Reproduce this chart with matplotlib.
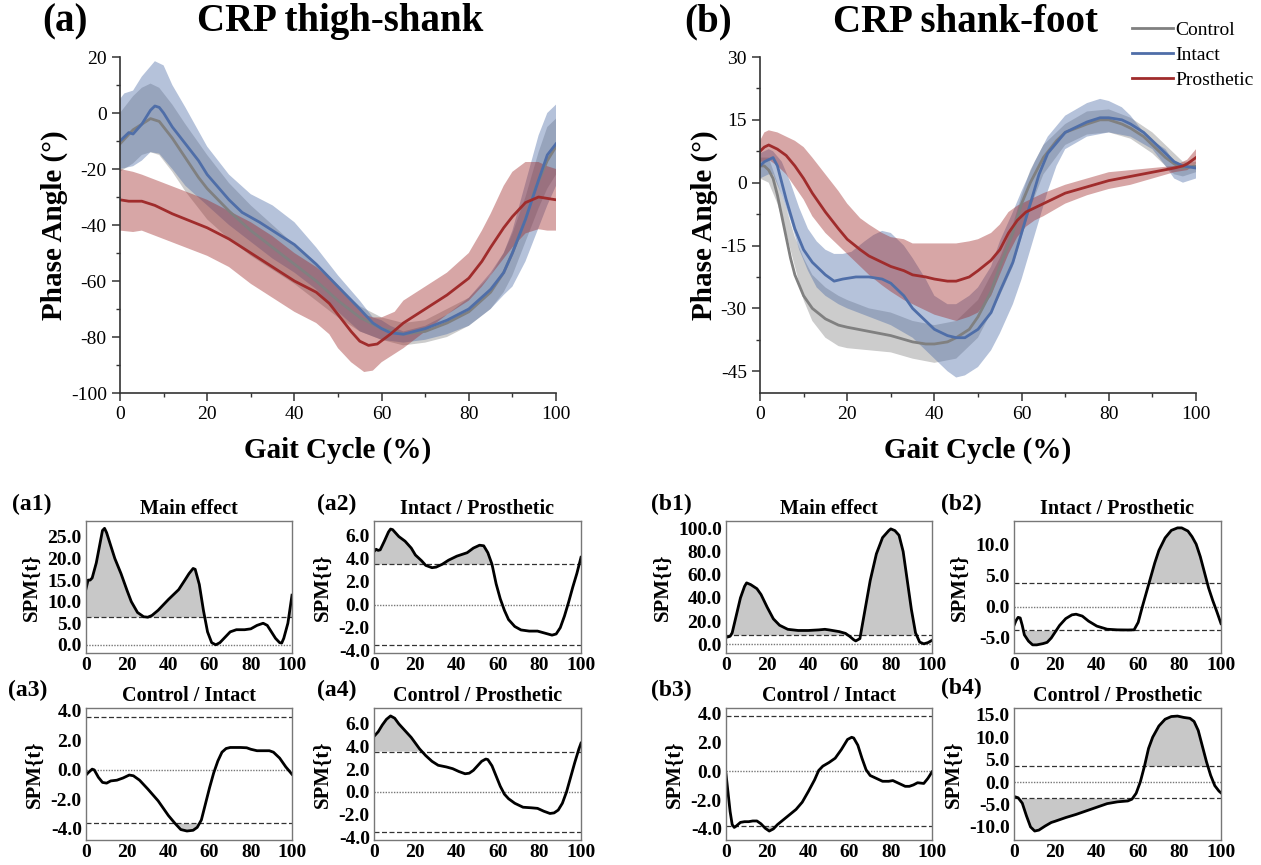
import numpy as np
import matplotlib.pyplot as plt
from matplotlib.ticker import MultipleLocator, FormatStrFormatter

plt.rcParams['font.family'] = ['Liberation Serif', 'DejaVu Serif']
plt.rcParams['axes.unicode_minus'] = False

W, H = 1261, 865

C_CTRL = '#808080'
C_INT = '#4f6ea8'
C_PRO = '#a02c2c'

# ---------------- (a) CRP thigh-shank ----------------
a_ctrl_x = [0, 3, 5, 7, 9, 12, 15, 18, 20, 25, 30, 35, 40, 45, 50, 55, 60, 65, 70, 75, 80, 85, 88, 90, 93, 95, 98, 100]
a_ctrl_y = [-11, -6, -4, -2, -3, -9, -16, -23, -27, -35, -42, -48, -54, -60, -67, -73, -77, -79, -78, -75, -71, -64, -57, -50, -38, -28, -17, -12]
a_ctrl_band_x = [0, 3, 5, 7, 9, 12, 15, 20, 25, 30, 35, 40, 45, 50, 55, 60, 65, 70, 75, 80, 85, 88, 90, 93, 96, 98, 100]
a_ctrl_hi = [0, 6, 9, 10.5, 9, 3, -4, -15, -25, -33, -40, -47, -54, -62, -69, -73, -75, -74, -70, -66, -58, -50, -43, -30, -14, -5, -2]
a_ctrl_lo = [-21, -18, -15, -14, -15, -21, -28, -38, -45, -51, -56, -61, -67, -73, -78, -81, -83, -82, -80, -76, -70, -64, -58, -46, -34, -27, -22]

a_int_x = [0, 2, 3, 5, 7, 8, 9, 10, 12, 15, 18, 20, 25, 28, 32, 35, 38, 40, 45, 50, 55, 58, 60, 62, 65, 70, 75, 80, 85, 88, 90, 93, 96, 98, 100]
a_int_y = [-10, -7, -7.5, -4, 1, 2.5, 2, 0, -5, -11, -17, -22, -31, -35.5, -39, -42, -45, -47, -54, -62, -70, -75, -77, -78.5, -79, -77, -74, -70, -63, -57, -50, -38, -24, -15, -11]
a_int_hi_x = [0, 1, 3, 5, 8, 10, 12, 15, 20, 25, 30, 35, 40, 45, 50, 55, 58, 60, 62, 65, 70, 75, 80, 85, 88, 90, 93, 96, 98, 100]
a_int_hi = [5, 7, 8, 13, 18.5, 17, 10, 2, -12, -22, -29, -33, -39, -48, -58, -67, -73, -74, -76, -78, -76, -72, -66, -57, -50, -42, -25, -8, 0, 3]
a_int_lo_x = [0, 3, 5, 7, 9, 12, 15, 20, 25, 30, 35, 40, 45, 50, 55, 60, 65, 70, 75, 80, 85, 88, 90, 93, 95, 98, 100]
a_int_lo = [-20, -19, -17, -14, -14.5, -20, -26, -33, -40, -46, -52, -57, -63, -71, -78, -81, -82, -81, -79, -76, -70, -65, -62, -53, -45, -33, -26]

a_pro_x = [0, 2, 5, 8, 12, 16, 20, 25, 30, 35, 40, 45, 48, 50, 53, 55, 57, 59, 62, 65, 70, 75, 80, 83, 85, 88, 90, 93, 96, 98, 100]
a_pro_y = [-31, -31.5, -31.5, -33, -36, -38.5, -41, -45, -50, -55, -60, -64, -68, -72, -78, -81.5, -83, -82.5, -79, -75, -70, -65, -59, -53, -48, -41, -37, -32, -30, -30.5, -31]
a_pro_band_x = [0, 3, 5, 10, 15, 20, 25, 30, 35, 40, 45, 48, 50, 53, 56, 58, 60, 63, 65, 70, 75, 80, 83, 85, 88, 90, 93, 96, 98, 100]
a_pro_hi = [-20, -21, -22, -25, -28, -31, -35, -39, -44, -50, -55, -59, -62, -67, -72, -73, -73, -71, -67, -62, -57, -50, -42, -36, -26, -21, -17.5, -17.5, -19, -20]
a_pro_lo = [-42, -42.5, -42, -45, -48, -51, -55, -61, -66, -71, -75, -79, -84, -89, -92.5, -92, -89, -86, -84, -78, -72, -67, -62, -58, -52, -48, -43, -41.5, -42, -42]

# ---------------- (b) CRP shank-foot ----------------
b_ctrl_x = [0, 1, 2, 3, 4, 5, 6, 7, 8, 10, 12, 15, 18, 20, 25, 30, 35, 38, 40, 43, 45, 48, 50, 53, 55, 58, 60, 62, 65, 68, 70, 75, 78, 80, 83, 85, 88, 90, 93, 95, 97, 100]
b_ctrl_y = [4, 4, 3, 1, -3, -8, -13, -18, -22, -27, -30, -32.5, -34, -34.5, -35.5, -36.5, -38, -38.5, -38.5, -38, -37, -35, -32, -26, -20, -12, -5, 0, 6, 10, 12, 14, 15, 15, 14, 13, 11, 9, 6, 4.5, 3.5, 4]
b_ctrl_band_x = [0, 2, 4, 6, 8, 10, 12, 15, 18, 20, 25, 30, 35, 40, 45, 50, 55, 58, 60, 62, 65, 70, 75, 80, 85, 90, 93, 95, 97, 100]
b_ctrl_hi = [6, 6, 0, -6, -13, -18, -22, -25, -27, -28, -30, -31, -33, -34, -33, -28, -18, -10, -3, 3, 9, 14, 17, 17.5, 15.5, 12, 9, 7, 5, 5]
b_ctrl_lo = [1, 0, -5, -12, -20, -28, -33, -37, -39, -39.5, -40, -40.5, -42, -43, -42, -37, -27, -20, -13, -6, 2, 9, 11.5, 12, 10.5, 7, 4, 2, 1.5, 2.5]

b_int_x = [0, 1, 2, 3, 4, 5, 6, 8, 10, 12, 15, 17, 19, 22, 25, 28, 30, 33, 35, 38, 40, 43, 45, 47, 50, 53, 55, 58, 60, 62, 64, 66, 70, 75, 78, 80, 83, 85, 88, 90, 93, 95, 97, 100]
b_int_y = [4, 5, 5.5, 6, 4, 0, -4, -11, -16, -19, -22, -23.5, -23, -22.5, -22.5, -23, -24, -27, -30, -33, -35, -36.5, -37, -37, -35, -31, -26, -19, -12, -5, 2, 7, 12, 14.5, 15.5, 15.5, 15, 14, 12, 10, 7, 5, 4, 3.5]
b_int_hi_x = [0, 2, 3, 5, 7, 9, 11, 13, 15, 17, 19, 21, 24, 26, 28, 30, 33, 35, 38, 40, 43, 45, 48, 50, 53, 55, 58, 60, 63, 66, 70, 75, 78, 80, 83, 85, 88, 90, 93, 95, 98, 100]
b_int_hi = [7, 8, 7.5, 5, 0, -6, -11, -14, -16, -17, -17, -16.5, -14, -12.5, -11.5, -12, -15, -18, -23, -27, -29, -29, -27, -25, -20, -14, -7, -2, 5, 11, 16, 19, 20, 19.5, 18, 16, 12, 10, 8, 5, 4, 4]
b_int_lo_x = [0, 2, 3, 5, 7, 9, 11, 13, 15, 18, 20, 25, 30, 35, 38, 40, 43, 45, 47, 50, 53, 55, 58, 60, 62, 64, 66, 68, 70, 75, 80, 85, 90, 93, 95, 97, 100]
b_int_lo = [1, 2, 2, -3, -9, -16, -21, -25, -27, -29, -30, -32, -34, -37, -40, -42, -45, -46.5, -46, -44, -40, -36, -29, -23, -16, -9, -2, 4, 8, 11, 12, 11, 8, 4, 1, 0, 1]

b_pro_x = [0, 1, 2, 4, 6, 8, 10, 12, 15, 18, 20, 23, 25, 28, 30, 33, 35, 38, 40, 43, 45, 48, 50, 53, 55, 57, 59, 61, 63, 65, 68, 70, 75, 80, 85, 90, 95, 97, 98, 100]
b_pro_y = [7.5, 8.5, 9, 8, 6.5, 4, 1, -2.5, -7, -11, -13.5, -16, -17.5, -19, -20, -21, -22, -22.5, -23, -23.5, -23.5, -22.5, -21, -18.5, -16, -12, -9, -7, -6, -5, -3.5, -2.5, -1, 0.5, 1.5, 2.5, 3.5, 4, 4.5, 6]
b_pro_band_x = [0, 1, 2, 4, 6, 8, 10, 12, 15, 18, 20, 23, 25, 28, 30, 33, 35, 40, 45, 48, 50, 53, 55, 57, 59, 61, 63, 65, 70, 75, 80, 85, 90, 95, 98, 100]
b_pro_hi = [10, 12, 12.5, 12, 11, 10, 8.5, 6, 2, -2, -5, -8.5, -10, -12, -13, -13.5, -14.5, -14.5, -14.5, -14, -13.5, -12, -10, -7, -5.5, -4.5, -3.5, -2.5, -0.5, 1, 2.5, 3, 3.5, 4, 5.5, 8]
b_pro_lo = [5, 5, 5.5, 4, 2, -1, -4, -8, -12, -15, -17, -20, -22, -24.5, -26, -28, -29, -31.5, -33, -32, -31, -27, -22, -17, -13, -10.5, -9, -8, -5, -3, -1.5, -0.5, 1, 2.5, 3, 4.5]

# ---------------- SPM{t} curves ----------------
a1_x = [0, 1, 2, 3, 5, 7, 8, 9, 10, 12, 14, 17, 20, 22, 25, 28, 30, 32, 35, 40, 45, 48, 50, 52, 53, 55, 57, 59, 61, 63, 65, 68, 70, 73, 77, 80, 83, 86, 88, 90, 92, 94, 95, 96, 98, 100]
a1_y = [13, 15, 15, 15.5, 19, 24, 26.5, 27, 26, 23, 20, 16.5, 12.5, 10, 7.5, 6.5, 6.4, 6.8, 8, 10.5, 12.8, 15, 16.5, 17.7, 17.5, 14, 8, 3, 0.5, 0, 0.5, 2, 3, 3.5, 3.5, 3.7, 4.5, 5, 4.5, 3, 1.5, 0.5, 0.4, 1.5, 5, 11.5]
a1_thr = 6.35

a2_x = [0, 1, 2, 3, 5, 7, 8, 9, 10, 12, 15, 18, 20, 23, 25, 28, 30, 33, 36, 40, 45, 48, 51, 53, 55, 57, 59, 61, 63, 65, 68, 71, 75, 79, 83, 86, 88, 90, 92, 94, 96, 98, 100]
a2_y = [4.6, 4.8, 4.7, 4.75, 5.5, 6.3, 6.55, 6.5, 6.3, 5.9, 5.5, 4.9, 4.3, 3.8, 3.4, 3.2, 3.25, 3.5, 3.85, 4.2, 4.5, 4.9, 5.15, 5.1, 4.5, 3.5, 1.8, 0.5, -0.5, -1.3, -1.9, -2.2, -2.3, -2.3, -2.5, -2.65, -2.55, -2.0, -1.0, 0.2, 1.5, 2.7, 4.1]
a2_thr = 3.48

b1_x = [0, 2, 3, 5, 7, 9, 10, 12, 15, 17, 20, 23, 26, 30, 35, 40, 45, 48, 50, 55, 58, 60, 62, 63, 65, 67, 70, 73, 76, 79, 80, 82, 84, 86, 88, 90, 92, 94, 96, 98, 100]
b1_y = [6, 7, 10, 25, 40, 50, 53, 51.5, 48, 43, 32, 22, 16.5, 13, 12, 12, 12.5, 13, 12.5, 11, 9.5, 7, 4, 3, 5, 25, 55, 78, 92, 98, 99.5, 98, 94, 80, 55, 30, 10, 2, 0.5, 1.5, 3.5]
b1_thr = 7.7

b2_x = [0, 1, 2, 3, 4, 5, 7, 9, 11, 14, 16, 18, 20, 22, 25, 28, 30, 33, 36, 40, 45, 50, 55, 58, 60, 62, 65, 68, 70, 73, 76, 79, 81, 84, 86, 88, 90, 92, 94, 96, 98, 100]
b2_y = [-3, -2.2, -1.7, -1.8, -3, -4.5, -5.5, -6.1, -6.1, -5.9, -5.7, -5, -4, -3, -1.9, -1.3, -1.2, -1.5, -2.3, -3.1, -3.6, -3.7, -3.72, -3.7, -2.5, 0, 3.5, 7, 9, 11, 12.2, 12.6, 12.6, 12.1, 11.2, 10, 8, 5.5, 3, 1, -0.8, -2.7]
b2_thr = 3.78

a3_x = [0, 1, 3, 4, 6, 8, 10, 12, 15, 18, 21, 23, 26, 30, 35, 40, 43, 46, 49, 52, 54, 56, 58, 60, 62, 64, 66, 68, 70, 75, 78, 80, 83, 86, 89, 91, 94, 97, 100]
a3_y = [-0.35, -0.2, 0.05, 0, -0.5, -0.85, -0.9, -0.75, -0.7, -0.55, -0.35, -0.4, -0.7, -1.3, -2.1, -3.1, -3.6, -4.05, -4.15, -4.1, -3.9, -3.4, -2.3, -1.2, -0.2, 0.6, 1.2, 1.45, 1.52, 1.52, 1.5, 1.4, 1.3, 1.3, 1.3, 1.2, 0.8, 0.2, -0.3]
a3_thr = 3.62

a4_x = [0, 2, 4, 6, 8, 10, 12, 15, 18, 20, 22, 25, 28, 31, 35, 38, 41, 44, 46, 48, 50, 52, 54, 55, 57, 59, 61, 63, 65, 68, 72, 76, 79, 82, 85, 87, 89, 91, 93, 95, 97, 99, 100]
a4_y = [4.9, 5.3, 5.9, 6.4, 6.7, 6.5, 6.0, 5.4, 4.8, 4.3, 3.8, 3.2, 2.7, 2.35, 2.2, 2.05, 1.8, 1.6, 1.65, 1.9, 2.3, 2.7, 2.9, 2.85, 2.3, 1.4, 0.5, -0.2, -0.6, -1.0, -1.35, -1.4, -1.45, -1.7, -1.9, -1.85, -1.6, -1.0, 0, 1.3, 2.6, 3.8, 4.3]
a4_thr = 3.56

b3_x = [0, 1, 2, 3, 4, 5, 7, 9, 11, 13, 15, 17, 19, 21, 23, 25, 28, 31, 34, 37, 40, 43, 45, 47, 50, 53, 56, 59, 61, 62, 64, 66, 68, 70, 73, 76, 79, 81, 84, 87, 89, 91, 93, 96, 98, 100]
b3_y = [-0.2, -1.5, -2.8, -3.7, -3.9, -3.8, -3.55, -3.5, -3.5, -3.45, -3.45, -3.65, -3.95, -4.15, -4.0, -3.7, -3.35, -3.0, -2.65, -2.15, -1.4, -0.6, 0.05, 0.35, 0.6, 0.9, 1.5, 2.2, 2.35, 2.3, 1.8, 0.9, 0.1, -0.3, -0.5, -0.7, -0.7, -0.65, -0.85, -1.05, -1.05, -0.95, -0.8, -0.85, -0.5, -0.05]
b3_thr = 3.82

b4_x = [0, 2, 4, 6, 8, 10, 12, 15, 18, 20, 25, 30, 35, 40, 45, 50, 55, 57, 59, 61, 63, 65, 67, 70, 73, 76, 79, 82, 85, 87, 89, 91, 93, 95, 97, 99, 100]
b4_y = [-3.2, -3.5, -4.7, -7.5, -10, -10.9, -10.7, -9.8, -9.0, -8.7, -7.9, -7.2, -6.4, -5.6, -4.8, -4.4, -4.2, -3.8, -2.5, 0, 3.5, 7.5, 10, 12.5, 14, 14.6, 14.7, 14.4, 14.2, 13.5, 11.5, 8, 4.5, 1.5, -0.8, -2, -2.4]
b4_thr = 3.6


def px_axes(fig, left, top, right, bottom):
    return fig.add_axes([left / W, 1 - bottom / H, (right - left) / W, (bottom - top) / H])


def band(ax, xu, yu, xl, yl, color, alpha):
    xs = np.r_[np.asarray(xu, float), np.asarray(xl, float)[::-1]]
    ys = np.r_[np.asarray(yu, float), np.asarray(yl, float)[::-1]]
    ax.fill(xs, ys, color=color, alpha=alpha, lw=0)


def style_crp(ax, ylim, ymaj):
    ax.set_xlim(0, 100)
    ax.set_ylim(*ylim)
    ax.xaxis.set_major_locator(MultipleLocator(20))
    ax.xaxis.set_minor_locator(MultipleLocator(10))
    ax.yaxis.set_major_locator(MultipleLocator(ymaj))
    ax.yaxis.set_minor_locator(MultipleLocator(ymaj / 2))
    for s in ['top', 'right']:
        ax.spines[s].set_visible(False)
    for s in ['left', 'bottom']:
        ax.spines[s].set_color('#333333')
        ax.spines[s].set_linewidth(1.2)
    ax.tick_params(which='major', direction='out', length=6, width=1.1, labelsize=14, color='#333333')
    ax.tick_params(which='minor', direction='out', length=3, width=1.0, color='#333333')
    ax.set_xlabel('Gait Cycle (%)', fontsize=21, fontweight='bold', labelpad=10)
    ax.set_ylabel('Phase Angle (°)', fontsize=21, fontweight='bold', labelpad=2)


fig = plt.figure(figsize=(W / 100, H / 100), dpi=100)

# panel (a)
axa = px_axes(fig, 120, 57, 556, 393)
band(axa, a_ctrl_band_x, a_ctrl_hi, a_ctrl_band_x, a_ctrl_lo, C_CTRL, 0.4)
band(axa, a_int_hi_x, a_int_hi, a_int_lo_x, a_int_lo, C_INT, 0.42)
band(axa, a_pro_band_x, a_pro_hi, a_pro_band_x, a_pro_lo, C_PRO, 0.42)
axa.plot(a_ctrl_x, a_ctrl_y, color=C_CTRL, lw=2)
axa.plot(a_int_x, a_int_y, color=C_INT, lw=2)
axa.plot(a_pro_x, a_pro_y, color=C_PRO, lw=2)
style_crp(axa, (-100, 20), 20)

# panel (b)
axb = px_axes(fig, 760, 57, 1196, 393)
band(axb, b_ctrl_band_x, b_ctrl_hi, b_ctrl_band_x, b_ctrl_lo, C_CTRL, 0.4)
band(axb, b_int_hi_x, b_int_hi, b_int_lo_x, b_int_lo, C_INT, 0.42)
band(axb, b_pro_band_x, b_pro_hi, b_pro_band_x, b_pro_lo, C_PRO, 0.42)
l1, = axb.plot(b_ctrl_x, b_ctrl_y, color=C_CTRL, lw=2, label='Control')
l2, = axb.plot(b_int_x, b_int_y, color=C_INT, lw=2, label='Intact')
l3, = axb.plot(b_pro_x, b_pro_y, color=C_PRO, lw=2, label='Prosthetic')
style_crp(axb, (-50.2, 30), 15)

fig.legend(handles=[l1, l2, l3], loc='upper right', bbox_to_anchor=(1254 / W, 1 - 21 / H),
           frameon=False, fontsize=14, handlelength=2.1, handletextpad=0.15,
           labelspacing=0.38, borderpad=0, borderaxespad=0)

fig.text(65 / W, 1 - 22 / H, '(a)', fontsize=28, fontweight='bold', ha='center', va='center')
fig.text(340 / W, 1 - 22 / H, 'CRP thigh-shank', fontsize=28, fontweight='bold', ha='center', va='center')
fig.text(708 / W, 1 - 22 / H, '(b)', fontsize=28, fontweight='bold', ha='center', va='center')
fig.text(965 / W, 1 - 22 / H, 'CRP shank-foot', fontsize=28, fontweight='bold', ha='center', va='center')


def spm_panel(box, x, y, thr, two_sided, ylim, yticks, title, tag, tag_xy):
    ax = px_axes(fig, *box)
    x = np.asarray(x, float)
    y = np.asarray(y, float)
    ax.fill_between(x, y, thr, where=y >= thr, interpolate=True, color='#c8c8c8', lw=0)
    ax.axhline(thr, ls=(0, (4, 2)), color='#333333', lw=0.9)
    if two_sided:
        ax.fill_between(x, y, -thr, where=y <= -thr, interpolate=True, color='#c8c8c8', lw=0)
        ax.axhline(-thr, ls=(0, (4, 2)), color='#333333', lw=0.9)
    ax.axhline(0, ls=(0, (1, 1)), color='#777777', lw=1.0)
    ax.plot(x, y, color='black', lw=2)
    ax.set_xlim(0, 100)
    ax.set_ylim(*ylim)
    ax.set_xticks([0, 20, 40, 60, 80, 100])
    ax.set_yticks(yticks)
    ax.yaxis.set_major_formatter(FormatStrFormatter('%.1f'))
    ax.tick_params(length=0, labelsize=14, pad=3)
    for lab in ax.get_xticklabels() + ax.get_yticklabels():
        lab.set_fontweight('bold')
    for s in ax.spines.values():
        s.set_color('#777777')
        s.set_linewidth(1.0)
    ax.set_ylabel('SPM{t}', fontsize=15, fontweight='bold', labelpad=4)
    ax.set_title(title, fontsize=14.5, fontweight='bold', pad=5)
    fig.text(tag_xy[0] / W, 1 - tag_xy[1] / H, tag, fontsize=17, fontweight='bold', ha='center', va='center')
    return ax


spm_panel((86, 521, 292, 653), a1_x, a1_y, a1_thr, False, (-1.9, 28.7), [0, 5, 10, 15, 20, 25],
          'Main effect', '(a1)', (32, 504))
spm_panel((374, 521, 581, 653), a2_x, a2_y, a2_thr, True, (-4.2, 7.25), [-4, -2, 0, 2, 4, 6],
          'Intact / Prosthetic', '(a2)', (337, 504))
spm_panel((726, 521, 932, 653), b1_x, b1_y, b1_thr, False, (-7.4, 106.3), [0, 20, 40, 60, 80, 100],
          'Main effect', '(b1)', (671, 504))
spm_panel((1014, 521, 1221, 653), b2_x, b2_y, b2_thr, True, (-7.4, 13.7), [-5, 0, 5, 10],
          'Intact / Prosthetic', '(b2)', (961, 504))
spm_panel((86, 708, 292, 840), a3_x, a3_y, a3_thr, True, (-4.76, 4.2), [-4, -2, 0, 2, 4],
          'Control / Intact', '(a3)', (28, 690))
spm_panel((374, 708, 581, 840), a4_x, a4_y, a4_thr, True, (-4.24, 7.4), [-4, -2, 0, 2, 4, 6],
          'Control / Prosthetic', '(a4)', (337, 690))
spm_panel((726, 708, 932, 840), b3_x, b3_y, b3_thr, True, (-4.77, 4.38), [-4, -2, 0, 2, 4],
          'Control / Intact', '(b3)', (671, 690))
spm_panel((1014, 708, 1221, 840), b4_x, b4_y, b4_thr, True, (-12.9, 16.5), [-10, -5, 0, 5, 10, 15],
          'Control / Prosthetic', '(b4)', (961, 688))

fig.savefig('out.png', dpi=100)
